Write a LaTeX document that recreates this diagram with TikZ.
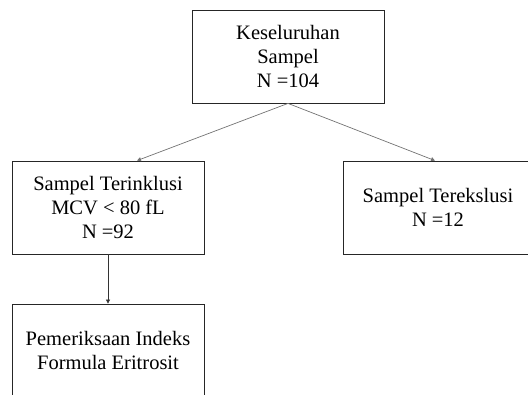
\documentclass[tikz,border=0pt]{standalone}
\usepackage{fontspec}
\setmainfont{Liberation Serif}
\usetikzlibrary{arrows.meta}
\begin{document}
\begin{tikzpicture}[x=1pt,y=-1pt,
  txt/.style={align=center,inner sep=0pt,font=\fontsize{20.5}{24}\selectfont},
  box/.style={txt,draw=black!85,line width=0.8pt,minimum width=192pt,minimum height=93pt},
  conn/.style={draw=black!55,line width=0.7pt,-{Triangle[length=4pt,width=4pt]}}]
\useasboundingbox (0,0) rectangle (528,394);
\clip (0,0) rectangle (528,394);
\node[box] (top) at (288,56.5) {Keseluruhan\\Sampel\\N =104};
\node[box] (inc) at (108,207.5) {Sampel Terinklusi\\MCV < 80 fL\\N =92};
\node[box,minimum width=230pt] (exc) at (458,207.5) {};
\node[txt] (exct) at (438,207.5) {Sampel Terekslusi\\N =12};
\node[box] (exam) at (108,350.5) {Pemeriksaan Indeks\\Formula Eritrosit};
\draw[conn] (top.south) -- (inc.north -| 137,0);
\draw[conn] (top.south) -- (exc.north -| 435,0);
\draw[conn,draw=black!80] (inc.south) -- (exam.north);
\end{tikzpicture}
\end{document}
